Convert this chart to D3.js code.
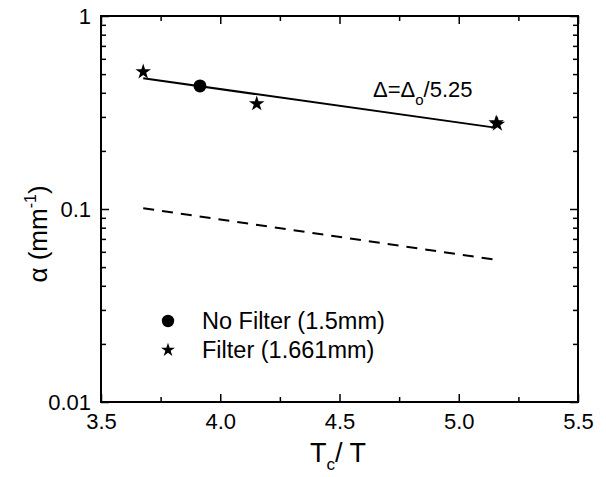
<!DOCTYPE html>
<html>
<head>
<meta charset="utf-8">
<script src="https://cdn.jsdelivr.net/npm/d3@7"></script>
<style>
  body { margin: 0; background: #fff; }
  text { font-family: "Liberation Sans", Arial, sans-serif; fill: #000; }
</style>
</head>
<body>
<svg id="chart" width="606" height="477"></svg>
<script>
// data
const filterX = [3.677, 4.153, 5.162, 5.157];
const filterY = [0.514, 0.351, 0.275, 0.28];
const noFilterX = [3.915];
const noFilterY = [0.434];
const fitX = [3.677, 5.152];
const fitY = [0.4755, 0.264];
const dashX = [3.677, 5.142];
const dashY = [0.101, 0.0549];
const xTicks = [3.5, 4.0, 4.5, 5.0, 5.5];
const yTicks = [0.01, 0.1, 1];
const legendLabels = ['No Filter (1.5mm)', 'Filter (1.661mm)'];

const W = 606, H = 477;
const m = { top: 16, right: 28, bottom: 75, left: 101 };
const svg = d3.select('#chart');

const x = d3.scaleLinear().domain([3.5, 5.5]).range([m.left, W - m.right]);
const y = d3.scaleLog().domain([0.01, 1]).range([H - m.bottom, m.top]);

// minor ticks
const xMinor = d3.range(3.5, 5.51, 0.25).filter(v => !xTicks.some(t => Math.abs(t - v) < 1e-6));
const yMinor = [];
for (const d of [0.01, 0.1]) for (let k = 2; k <= 9; k++) yMinor.push(d * k);

const g = svg.append('g');
const fmt = d3.format('.1f');

// bottom + top axes
g.append('g').attr('transform', `translate(0,${H - m.bottom})`)
  .call(d3.axisBottom(x).tickValues(xTicks).tickSizeInner(-8).tickSizeOuter(0).tickPadding(11).tickFormat(fmt))
  .call(a => a.selectAll('text').attr('font-size', 22));
g.append('g').attr('transform', `translate(0,${H - m.bottom})`)
  .call(d3.axisBottom(x).tickValues(xMinor).tickSizeInner(-5).tickSizeOuter(0).tickFormat(''));
g.append('g').attr('transform', `translate(0,${m.top})`)
  .call(d3.axisTop(x).tickValues(xTicks).tickSizeInner(-8).tickSizeOuter(0).tickFormat(''));
g.append('g').attr('transform', `translate(0,${m.top})`)
  .call(d3.axisTop(x).tickValues(xMinor).tickSizeInner(-5).tickSizeOuter(0).tickFormat(''));

// left + right axes
g.append('g').attr('transform', `translate(${m.left},0)`)
  .call(d3.axisLeft(y).tickValues(yTicks).tickSizeInner(-8).tickSizeOuter(0).tickPadding(10).tickFormat(d => String(d)))
  .call(a => a.selectAll('text').attr('font-size', 22));
g.append('g').attr('transform', `translate(${m.left},0)`)
  .call(d3.axisLeft(y).tickValues(yMinor).tickSizeInner(-5).tickSizeOuter(0).tickFormat(''));
g.append('g').attr('transform', `translate(${W - m.right},0)`)
  .call(d3.axisRight(y).tickValues(yTicks).tickSizeInner(-8).tickSizeOuter(0).tickFormat(''));
g.append('g').attr('transform', `translate(${W - m.right},0)`)
  .call(d3.axisRight(y).tickValues(yMinor).tickSizeInner(-5).tickSizeOuter(0).tickFormat(''));

g.selectAll('.domain').remove();
g.selectAll('.tick line').attr('stroke', '#000').attr('stroke-width', 1.5);

// frame
svg.append('rect')
  .attr('x', m.left).attr('y', m.top)
  .attr('width', W - m.left - m.right).attr('height', H - m.top - m.bottom)
  .attr('fill', 'none').attr('stroke', '#000').attr('stroke-width', 2);

// lines
const line = d3.line().x(d => x(d[0])).y(d => y(d[1]));
svg.append('path').datum(d3.zip(fitX, fitY)).attr('d', line)
  .attr('fill', 'none').attr('stroke', '#000').attr('stroke-width', 2);
svg.append('path').datum(d3.zip(dashX, dashY)).attr('d', line)
  .attr('fill', 'none').attr('stroke', '#000').attr('stroke-width', 2)
  .attr('stroke-dasharray', '11,8');

// markers
const star = d3.symbol().type(d3.symbolStar).size(75);
svg.selectAll('path.star').data(d3.zip(filterX, filterY)).enter().append('path')
  .attr('class', 'star')
  .attr('d', star)
  .attr('transform', d => `translate(${x(d[0])},${y(d[1])})`)
  .attr('fill', '#000');
svg.selectAll('circle.nf').data(d3.zip(noFilterX, noFilterY)).enter().append('circle')
  .attr('class', 'nf')
  .attr('cx', d => x(d[0])).attr('cy', d => y(d[1])).attr('r', 6.5)
  .attr('fill', '#000');

// annotation
const ann = svg.append('text').attr('x', 373).attr('y', 97).attr('font-size', 22);
ann.append('tspan').text('Δ=Δ');
ann.append('tspan').attr('font-size', 15).attr('dy', 8).text('o');
ann.append('tspan').attr('dy', -8).text('/5.25');

// legend
const lg = svg.append('g');
lg.append('circle').attr('cx', 168).attr('cy', 321).attr('r', 6.2).attr('fill', '#000');
lg.append('path').attr('d', d3.symbol().type(d3.symbolStar).size(60))
  .attr('transform', 'translate(168,350)').attr('fill', '#000');
lg.selectAll('text').data(legendLabels).enter().append('text')
  .attr('x', 202).attr('y', (d, i) => 329 + i * 29)
  .attr('font-size', 23.5).text(d => d);

// axis titles
const xt = svg.append('text').attr('x', 338).attr('y', 462)
  .attr('text-anchor', 'middle').attr('font-size', 27);
xt.append('tspan').text('T');
xt.append('tspan').attr('font-size', 17).attr('dy', 8).text('c');
xt.append('tspan').attr('dy', -8).text('/ T');

const yt = svg.append('text')
  .attr('transform', 'translate(47,234) rotate(-90)')
  .attr('text-anchor', 'middle').attr('font-size', 26);
yt.append('tspan').text('α (mm');
yt.append('tspan').attr('font-size', 16).attr('dy', -11).text('-1');
yt.append('tspan').attr('dy', 11).text(')');
</script>
</body>
</html>
